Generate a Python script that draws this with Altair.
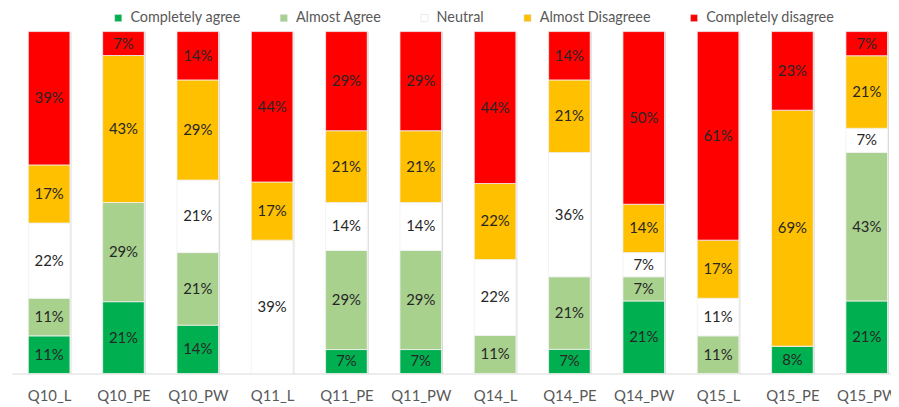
import altair as alt
import pandas as pd

questions = ["Q10_L", "Q10_PE", "Q10_PW", "Q11_L", "Q11_PE", "Q11_PW",
             "Q14_L", "Q14_PE", "Q14_PW", "Q15_L", "Q15_PE", "Q15_PW"]
categories = ["Completely agree", "Almost Agree", "Neutral",
              "Almost Disagreee", "Completely disagree"]
colors = ["#00B050", "#A9D18E", "#FFFFFF", "#FFC000", "#FF0000"]

completely_agree = [11, 21, 14, 0, 7, 7, 0, 7, 21, 0, 8, 21]
almost_agree = [11, 29, 21, 0, 29, 29, 11, 21, 7, 11, 0, 43]
neutral = [22, 0, 21, 39, 14, 14, 22, 36, 7, 11, 0, 7]
almost_disagree = [17, 43, 29, 17, 21, 21, 22, 21, 14, 17, 69, 21]
completely_disagree = [39, 7, 14, 44, 29, 29, 44, 14, 50, 61, 23, 7]

series = [completely_agree, almost_agree, neutral, almost_disagree, completely_disagree]

rows = []
for ci, (cat, vals) in enumerate(zip(categories, series)):
    for q, v in zip(questions, vals):
        rows.append({"q": q, "cat": cat, "order": ci, "value": v})
df = pd.DataFrame(rows)

base = alt.Chart(df).transform_joinaggregate(
    total="sum(value)", groupby=["q"]
).transform_calculate(
    frac="datum.value / datum.total",
    label="datum.value + '%'"
).transform_stack(
    stack="frac", groupby=["q"], sort=[alt.SortField("order")], as_=["y0", "y1"]
).transform_calculate(
    mid="(datum.y0 + datum.y1) / 2"
)

xenc = alt.X(
    "q:N", sort=questions,
    scale=alt.Scale(range=[0, 900], paddingInner=0.44, paddingOuter=0.22),
    axis=alt.Axis(title=None, labelAngle=0, grid=True, tickBand="extent",
                  gridColor="#d9d9d9", domainColor="#d9d9d9", ticks=False,
                  labelColor="#595959", labelFont="Lato", labelFontSize=15,
                  labelPadding=15),
)

bars = base.mark_bar(stroke="#f0f0f0", strokeWidth=0.8).encode(
    x=xenc,
    y=alt.Y("y0:Q", scale=alt.Scale(domain=[0, 1]), axis=None),
    y2="y1:Q",
    color=alt.Color(
        "cat:N",
        scale=alt.Scale(domain=categories, range=colors),
        legend=alt.Legend(
            title=None, orient="none", legendX=100, legendY=-21,
            direction="horizontal", symbolType="square", symbolSize=50,
            labelFont="Lato", labelFontSize=14.5, labelColor="#595959",
            columnPadding=36, labelOffset=5,
            symbolStrokeColor="#d9d9d9", symbolStrokeWidth=0.5,
        ),
    ),
    order=alt.Order("order:Q"),
)

texts = base.transform_filter("datum.value > 0").mark_text(
    font="Lato", fontSize=15, color="#262626"
).encode(
    x=alt.X("q:N", sort=questions),
    y=alt.Y("mid:Q"),
    text="label:N",
)

chart = alt.layer(bars, texts).properties(
    width=887, height=345,
    autosize=alt.AutoSizeParams(type="none"),
    padding={"left": 4, "top": 22, "right": 0, "bottom": 29},
).configure_view(stroke=None)

chart.save("out.html", embed_options={"renderer": "svg", "actions": False})
